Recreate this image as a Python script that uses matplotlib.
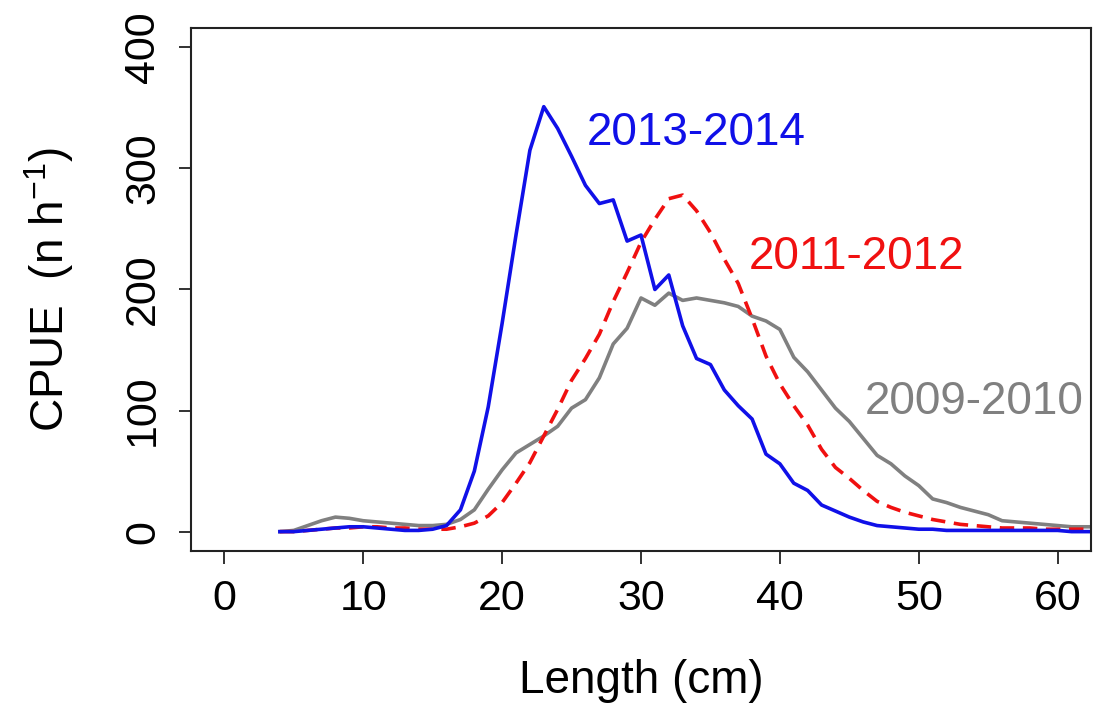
import matplotlib
matplotlib.use("Agg")
import matplotlib.pyplot as plt

plt.rcParams['font.family'] = ['Liberation Sans', 'DejaVu Sans']

length = list(range(4, 64))

cpue_2013_2014 = [0, 0, 1, 2, 3, 4, 4, 3, 2, 1, 1, 2, 5, 18, 50, 103, 172, 245, 315, 351,
                  333, 310, 286, 271, 274, 240, 245, 200, 212, 170, 143, 138, 117, 104, 93, 64,
                  56, 40, 34, 22, 17, 12, 8, 5, 4, 3, 2, 2, 1, 1, 1, 1, 1, 1, 1, 1, 1, 0, 0, 0]

cpue_2011_2012 = [0, 0, 1, 2, 3, 3, 4, 4, 3, 3, 2, 2, 2, 4, 7, 13, 24, 40, 57, 79,
                  101, 125, 143, 163, 190, 214, 239, 258, 275, 278, 265, 247, 225, 205, 176, 145,
                  122, 104, 88, 68, 53, 44, 34, 25, 20, 16, 13, 10, 8, 6, 5, 4, 3, 3, 3, 2, 2, 2, 2, 2]

cpue_2009_2010 = [0, 1, 5, 9, 12, 11, 9, 8, 7, 6, 5, 5, 6, 10, 18, 35, 51, 65, 72, 79,
                  87, 102, 109, 127, 155, 168, 193, 187, 197, 191, 193, 191, 189, 186, 178, 174,
                  167, 144, 132, 117, 102, 91, 77, 63, 56, 46, 38, 27, 24, 20, 17, 14, 9, 8, 7, 6,
                  5, 4, 4, 4]

labels = ["2013-2014", "2011-2012", "2009-2010"]
colors = ["#1010E8", "#F01010", "#808080"]
x_ticks = [0, 10, 20, 30, 40, 50, 60]
y_ticks = [0, 100, 200, 300, 400]

fig = plt.figure(figsize=(10.94, 7.15), dpi=100)
ax = fig.add_axes([191/1094, 1 - 551/715, 900/1094, 523/715])

ax.plot(length, cpue_2009_2010, color=colors[2], lw=2.6, solid_joinstyle='round')
ax.plot(length, cpue_2011_2012, color=colors[1], lw=2.6, linestyle=(0, (4, 2.4)))
ax.plot(length, cpue_2013_2014, color=colors[0], lw=2.6, solid_joinstyle='round')

ax.set_xlim(-2.4, 62.4)
ax.set_ylim(-16, 416)
ax.set_xticks(x_ticks)
ax.set_yticks(y_ticks)
ax.set_xticklabels([str(v) for v in x_ticks])
ax.set_yticklabels([str(v) for v in y_ticks])

for s in ax.spines.values():
    s.set_linewidth(1.5)
    s.set_color("#222222")
ax.tick_params(axis='both', length=9, width=1.3, color="#222222",
               labelsize=31, labelcolor="black", direction='out')
ax.tick_params(axis='x', pad=11)
ax.tick_params(axis='y', pad=11)
for lbl in ax.get_yticklabels():
    lbl.set_rotation(90)
    lbl.set_va('center')

ax.set_xlabel("Length (cm)", fontsize=33, labelpad=29)
ax.set_ylabel(r"CPUE  (n h$^{\mathregular{-1}}$)", fontsize=33, labelpad=34)

ax.text(33.96, 329, labels[0], color=colors[0], fontsize=33, ha='center', va='center')
ax.text(45.5, 227, labels[1], color=colors[1], fontsize=33, ha='center', va='center')
ax.text(53.96, 107, labels[2], color=colors[2], fontsize=33, ha='center', va='center')

fig.savefig("out.png", dpi=100)
